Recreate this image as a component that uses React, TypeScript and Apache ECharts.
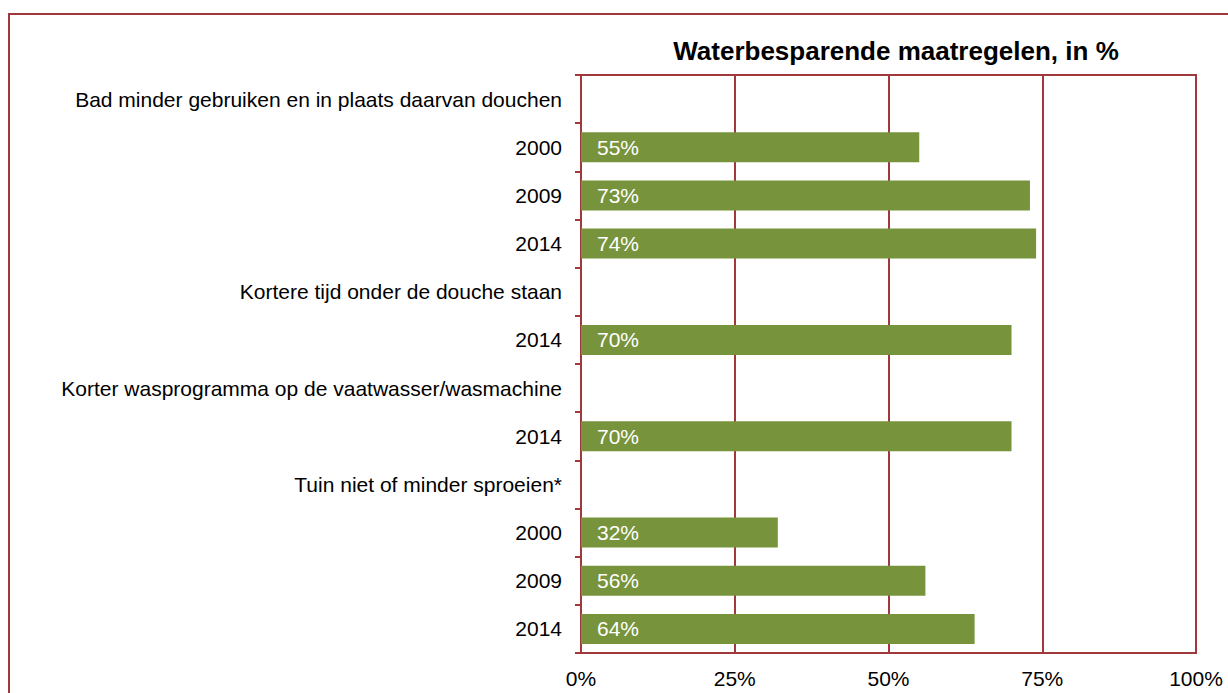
import React, { useEffect, useRef } from "react";
import * as echarts from "echarts";

const categories = [
  "Bad minder gebruiken en in plaats daarvan douchen",
  "2000",
  "2009",
  "2014",
  "Kortere tijd onder de douche staan",
  "2014",
  "Korter wasprogramma op de vaatwasser/wasmachine",
  "2014",
  "Tuin niet of minder sproeien*",
  "2000",
  "2009",
  "2014",
];
const values: (number | null)[] = [null, 55, 73, 74, null, 70, null, 70, null, 32, 56, 64];
const xTicks = [0, 25, 50, 75, 100];
const title = "Waterbesparende maatregelen, in %";

const RED = "#A0393C";
const GREEN = "#77933C";
const FONT = "'Liberation Sans', Arial, sans-serif";

export default function App() {
  const ref = useRef<HTMLDivElement>(null);
  useEffect(() => {
    if (!ref.current) return;
    const chart = echarts.init(ref.current, null, { renderer: "svg" });
    chart.setOption({
      animation: false,
      backgroundColor: "#ffffff",
      textStyle: { fontFamily: FONT },
      grid: {
        left: 581,
        right: 32,
        top: 75,
        bottom: 40,
        show: true,
        borderColor: RED,
        borderWidth: 2,
        containLabel: false,
      },
      xAxis: {
        type: "value",
        min: xTicks[0],
        max: xTicks[xTicks.length - 1],
        interval: 25,
        axisLine: { show: false },
        axisTick: { show: false },
        splitLine: { show: true, lineStyle: { color: RED, width: 2 } },
        axisLabel: {
          formatter: "{value}%",
          color: "#000",
          fontSize: 21,
          fontFamily: FONT,
          margin: 15,
        },
      },
      yAxis: {
        type: "category",
        data: categories,
        inverse: true,
        axisLine: { show: true, lineStyle: { color: RED, width: 2 } },
        axisTick: { show: true, length: 6, lineStyle: { color: RED, width: 2 } },
        axisLabel: {
          color: "#000",
          fontSize: 21,
          fontFamily: FONT,
          margin: 19,
        },
        splitLine: { show: false },
      },
      series: [
        {
          type: "bar",
          data: values,
          barWidth: 30,
          itemStyle: { color: GREEN },
          label: {
            show: true,
            position: "insideLeft",
            distance: 16,
            formatter: (p: any) => (p.value == null ? "" : p.value + "%"),
            color: "#fff",
            fontSize: 21,
            fontFamily: FONT,
          },
        },
      ],
      graphic: [
        {
          type: "rect",
          shape: { x: 9, y: 14, width: 1400, height: 900 },
          style: { fill: "none", stroke: RED, lineWidth: 2 },
          silent: true,
        },
        {
          type: "text",
          x: 896,
          y: 51,
          style: {
            text: title,
            fontSize: 26,
            fontWeight: "bold",
            fontFamily: FONT,
            fill: "#000",
            textAlign: "center",
            textVerticalAlign: "middle",
          },
        },
      ],
    });
    return () => chart.dispose();
  }, []);
  return (
    <div
      ref={ref}
      style={{ position: "fixed", left: 0, top: 0, width: 1228, height: 693 }}
    />
  );
}
